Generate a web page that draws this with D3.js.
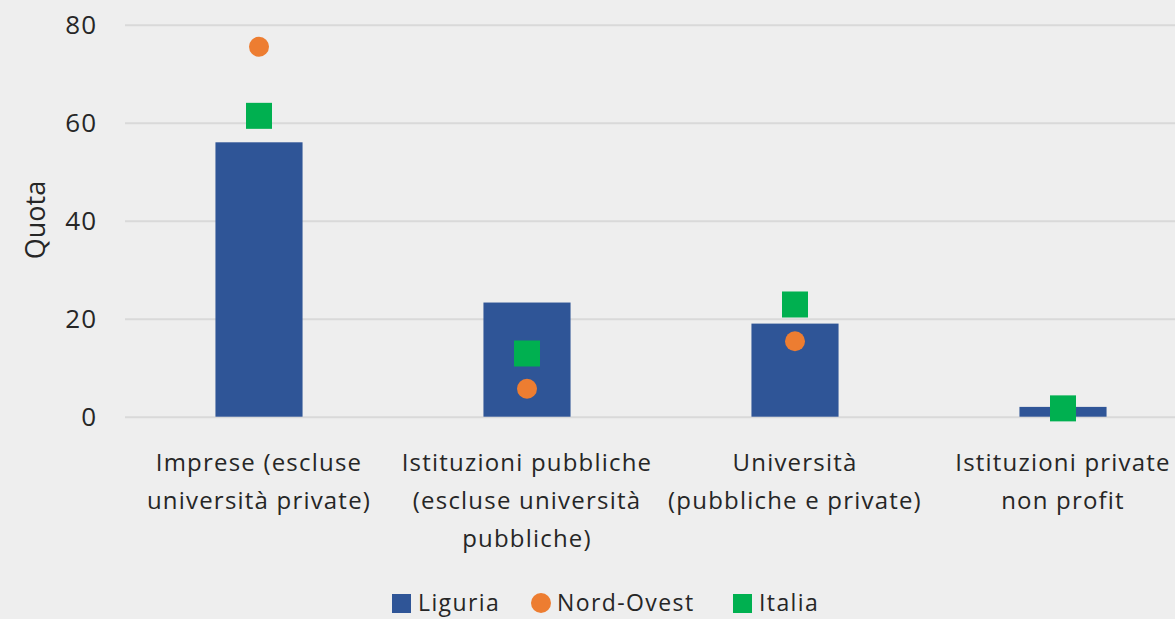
<!DOCTYPE html>
<html>
<head>
<meta charset="utf-8">
<script src="https://cdn.jsdelivr.net/npm/d3@7"></script>
<style>
  body { margin: 0; background: #eeeeee; }
  svg { display: block; font-family: "Open Sans", sans-serif; }
</style>
</head>
<body>
<svg id="svg" width="1175" height="619"></svg>
<script>
const categories = [
  ["Imprese (escluse", "università private)"],
  ["Istituzioni pubbliche", "(escluse università", "pubbliche)"],
  ["Università", "(pubbliche e private)"],
  ["Istituzioni private", "non profit"]
];
const liguria = [56.0, 23.3, 19.0, 2.0];
const nordOvest = [75.5, 5.7, 15.4, 1.5];
const italia = [61.4, 12.9, 22.9, 1.7];
const yTicks = [0, 20, 40, 60, 80];

const svg = d3.select("#svg");
const margin = { left: 125 };
const plotRight = 1197;

const x = d3.scaleBand()
  .domain(d3.range(categories.length))
  .range([margin.left, plotRight])
  .paddingInner(0.675)
  .paddingOuter(0.3375);

const y = d3.scaleLinear().domain([0, 80]).range([416.7, 24.7]);

// gridlines + y labels
const yAxis = svg.append("g")
  .attr("transform", `translate(${margin.left},0)`)
  .call(d3.axisLeft(y).tickValues(yTicks).tickSize(-(plotRight - margin.left)).tickPadding(28));
yAxis.select(".domain").remove();
yAxis.selectAll(".tick line").attr("stroke", "#d9d9d9").attr("stroke-width", 2);
yAxis.selectAll(".tick text")
  .attr("font-size", 26)
  .attr("fill", "#262626")
  .attr("letter-spacing", 1)
  .attr("font-family", "Open Sans, sans-serif");

svg.append("text")
  .attr("transform", "translate(45,220) rotate(-90)")
  .attr("text-anchor", "middle")
  .attr("font-size", 27)
  .attr("fill", "#262626")
  .text("Quota");

// bars
svg.append("g")
  .selectAll("rect")
  .data(liguria)
  .join("rect")
  .attr("x", (d, i) => x(i))
  .attr("width", x.bandwidth())
  .attr("y", d => y(d))
  .attr("height", d => y(0) - y(d))
  .attr("fill", "#2f5597");

const cx = i => x(i) + x.bandwidth() / 2;

// Nord-Ovest circles
svg.append("g")
  .selectAll("circle")
  .data(nordOvest)
  .join("circle")
  .attr("cx", (d, i) => cx(i))
  .attr("cy", d => y(d))
  .attr("r", 10)
  .attr("fill", "#ed7d31");

// Italia squares
const sq = 26;
svg.append("g")
  .selectAll("rect")
  .data(italia)
  .join("rect")
  .attr("x", (d, i) => cx(i) - sq / 2)
  .attr("y", d => y(d) - sq / 2)
  .attr("width", sq)
  .attr("height", sq)
  .attr("fill", "#00b050");

// category labels
const xl = svg.append("g")
  .selectAll("text")
  .data(categories)
  .join("text")
  .attr("text-anchor", "middle")
  .attr("font-size", 24)
  .attr("letter-spacing", 1.2)
  .attr("fill", "#262626");
xl.selectAll("tspan")
  .data((d, i) => d.map(t => ({ t, i })))
  .join("tspan")
  .attr("x", d => cx(d.i))
  .attr("y", (d, j) => 471 + j * 38)
  .text(d => d.t);

// legend
const legendItems = [
  { name: "Liguria", color: "#2f5597", shape: "rect" },
  { name: "Nord-Ovest", color: "#ed7d31", shape: "circle" },
  { name: "Italia", color: "#00b050", shape: "rect" }
];
const legendX = [392, 531, 733];
const legend = svg.append("g");
legendItems.forEach((d, i) => {
  const g = legend.append("g").attr("transform", `translate(${legendX[i]},603)`);
  if (d.shape === "rect") {
    g.append("rect").attr("x", 0).attr("y", -9).attr("width", 19).attr("height", 19).attr("fill", d.color);
  } else {
    g.append("circle").attr("cx", 10).attr("cy", 0).attr("r", 10).attr("fill", d.color);
  }
  g.append("text")
    .attr("x", 26)
    .attr("y", 0)
    .attr("dy", "0.36em")
    .attr("font-size", 23)
    .attr("letter-spacing", 1.4)
    .attr("fill", "#262626")
    .text(d.name);
});
</script>
</body>
</html>
